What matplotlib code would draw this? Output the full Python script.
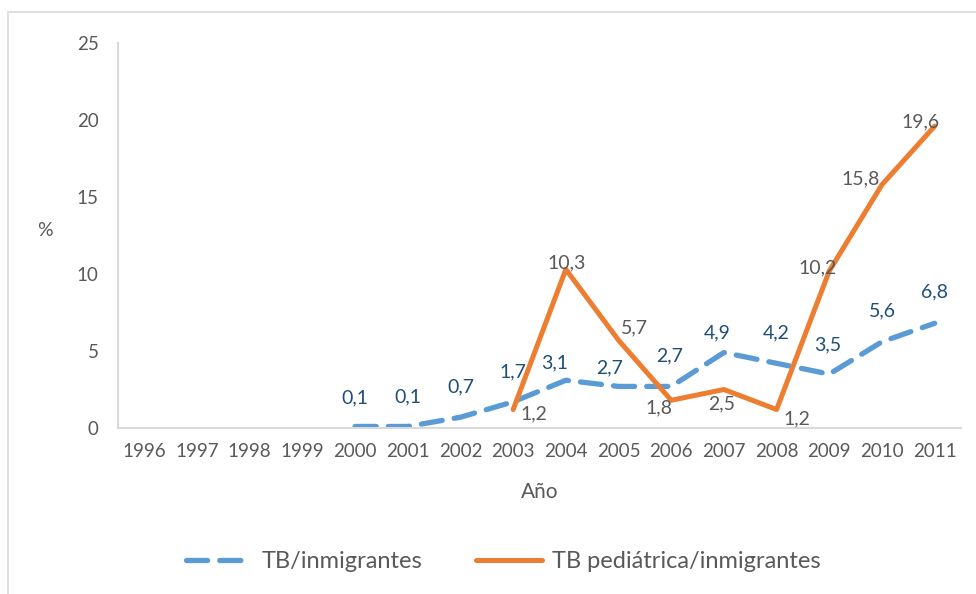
import matplotlib.pyplot as plt
import numpy as np
from matplotlib.patches import Rectangle

plt.rcParams['font.family'] = ['Lato', 'DejaVu Sans']

years = [str(y) for y in range(1996, 2012)]
tb_inmig = [None, None, None, None, 0.1, 0.1, 0.7, 1.7, 3.1, 2.7, 2.7, 4.9, 4.2, 3.5, 5.6, 6.8]
tb_pedi = [None, None, None, None, None, None, None, 1.2, 10.3, 5.7, 1.8, 2.5, 1.2, 10.2, 15.8, 19.6]

# label offsets in pixels (dx, dy)
off_inmig = [None, None, None, None, (0, 29), (0, 30), (0, 30), (0, 30), (-11, 17), (-9, 19),
             (-2, 31), (-7, 20), (0, 30), (-2, 29), (0, 31), (0, 31)]
off_pedi = [None, None, None, None, None, None, None, (21, -4), (1, 7), (16, 12),
            (-12, -8), (-2, -14), (20, -9), (-12, 3), (-21, 6), (-14, 4)]

blue = '#5B9BD5'
orange = '#ED7D31'
gray = '#595959'
dblue = '#1F4E79'

fig = plt.figure(figsize=(9.76, 5.94), dpi=100)
fig.patches.append(Rectangle((8 / 976, -0.1), 1.2, 1.1 - 12 / 594, transform=fig.transFigure,
                             fill=False, edgecolor='#D9D9D9', linewidth=1.2))
ax = fig.add_axes([118 / 976, 1 - 428 / 594, 843 / 976, 385 / 594])

x = np.arange(len(years))
y1 = np.array([np.nan if v is None else v for v in tb_inmig])
y2 = np.array([np.nan if v is None else v for v in tb_pedi])

l1, = ax.plot(x, y1, color=blue, lw=3.8, dashes=(4.0, 2.3), dash_capstyle='round',
              solid_joinstyle='round', label='TB/inmigrantes')
l2, = ax.plot(x, y2, color=orange, lw=3.6, solid_capstyle='round', solid_joinstyle='round',
              label='TB pediátrica/inmigrantes')

for i, v in enumerate(tb_inmig):
    if v is not None:
        ax.annotate(f'{v}'.replace('.', ','), (i, v), xytext=off_inmig[i], textcoords='offset pixels',
                    ha='center', va='center', fontsize=14, color=dblue)
for i, v in enumerate(tb_pedi):
    if v is not None:
        ax.annotate(f'{v}'.replace('.', ','), (i, v), xytext=off_pedi[i], textcoords='offset pixels',
                    ha='center', va='center', fontsize=14, color=gray)

ax.set_xlim(-0.5, len(years) - 0.5)
ax.set_ylim(0, 25)
ax.set_yticks([0, 5, 10, 15, 20, 25])
ax.set_xticks(x)
ax.set_xticklabels(years)
ax.tick_params(axis='both', length=0, labelsize=13.5, labelcolor=gray)
ax.tick_params(axis='y', pad=14)
ax.tick_params(axis='x', pad=11)
for s in ['top', 'right']:
    ax.spines[s].set_visible(False)
for s in ['left', 'bottom']:
    ax.spines[s].set_color('#D9D9D9')
    ax.spines[s].set_linewidth(1.5)

fig.text(45 / 976, 1 - 230 / 594, '%', ha='center', va='center', fontsize=14, color=gray)
fig.text(540 / 976, 1 - 492 / 594, 'Año', ha='center', va='center', fontsize=15, color=gray)

fig.legend(handles=[l1, l2], loc='center', bbox_to_anchor=(503 / 976, 1 - 562 / 594), ncol=2,
           frameon=False, fontsize=17, labelcolor=gray, handlelength=2.8, columnspacing=2.3,
           handletextpad=0.4)

fig.savefig('out.png', dpi=100)
